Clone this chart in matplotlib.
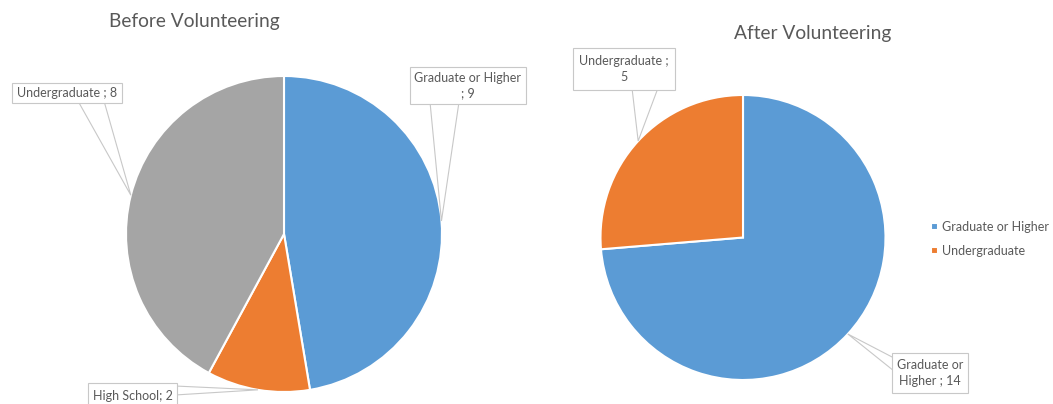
import numpy as np
import matplotlib.pyplot as plt
from matplotlib.patches import Rectangle, Polygon

W, H = 1053, 404

# education level of volunteers, before and after
before_labels = ['Graduate or Higher', 'High School', 'Undergraduate']
before_values = [9, 2, 8]
after_labels = ['Graduate or Higher', 'Undergraduate']
after_values = [14, 5]

blue, orange, gray = '#5B9BD5', '#ED7D31', '#A5A5A5'
text_col = '#595959'
line_col = '#C8C8C8'

plt.rcParams['font.family'] = ['Lato', 'DejaVu Sans']

fig = plt.figure(figsize=(W / 100, H / 100), dpi=100)
ax = fig.add_axes([0, 0, 1, 1])


def py(y):
    # pixel row (from top) -> data y
    return H - y


def draw_pie(values, colors, center, radius):
    wedges, _ = ax.pie(values, colors=colors, startangle=90, counterclock=False,
                       center=(center[0], py(center[1])), radius=radius,
                       wedgeprops=dict(edgecolor='white', linewidth=1.5))
    tips = []
    for w in wedges:
        mid = np.deg2rad((w.theta1 + w.theta2) / 2)
        tips.append((center[0] + radius * np.cos(mid), py(center[1]) + radius * np.sin(mid)))
    return wedges, tips


def callout(text, box, tip, base):
    # box = (left, top, right, bottom) in pixel rows, base = two points on the box
    x0, y0, x1, y1 = box
    tri = Polygon([tip, (base[0][0], py(base[0][1])), (base[1][0], py(base[1][1]))],
                  closed=True, facecolor='white', edgecolor=line_col, lw=0.8, zorder=3)
    ax.add_patch(tri)
    rect = Rectangle((x0, py(y1)), x1 - x0, y1 - y0, facecolor='white',
                     edgecolor=line_col, lw=0.8, zorder=4)
    ax.add_patch(rect)
    ax.text((x0 + x1) / 2, py((y0 + y1) / 2), text, ha='center', va='center',
            fontsize=9, color=text_col, linespacing=1.35, zorder=5)


b_wedges, b_tips = draw_pie(before_values, [blue, orange, gray], (284, 234), 158)
a_wedges, a_tips = draw_pie(after_values, [blue, orange], (743, 237.5), 142.5)

ax.set_xlim(0, W)
ax.set_ylim(0, H)
ax.set_aspect('equal')
ax.axis('off')

# data labels
callout('%s\n; %d' % (before_labels[0], before_values[0]), (410, 67, 526, 104), b_tips[0],
        [(430, 102), (459, 102)])
callout('%s; %d' % (before_labels[1], before_values[1]), (88, 383, 177, 408), b_tips[1],
        [(175, 386), (175, 395)])
callout('%s ; %d' % (before_labels[2], before_values[2]), (12, 83, 122, 103), b_tips[2],
        [(78, 101), (104, 101)])
callout('Graduate or\nHigher ; %d' % after_values[0], (892, 353, 968, 393), a_tips[0],
        [(894, 358), (894, 371)])
callout('%s ;\n%d' % (after_labels[1], after_values[1]), (573, 48, 675, 90), a_tips[1],
        [(632, 88), (658, 88)])

ax.text(194, py(21), 'Before Volunteering', ha='center', va='center', fontsize=13.8, color=text_col)
ax.text(813, py(34), 'After Volunteering', ha='center', va='center', fontsize=13.8, color=text_col)

ax.legend(a_wedges, after_labels, loc='upper left', bbox_to_anchor=(931 / W, py(221) / H),
          frameon=False, fontsize=9, handlelength=0.55, handleheight=0.55, handletextpad=0.35,
          borderpad=0, borderaxespad=0, labelspacing=0.95, labelcolor=text_col)

fig.savefig('out.png', dpi=100)
